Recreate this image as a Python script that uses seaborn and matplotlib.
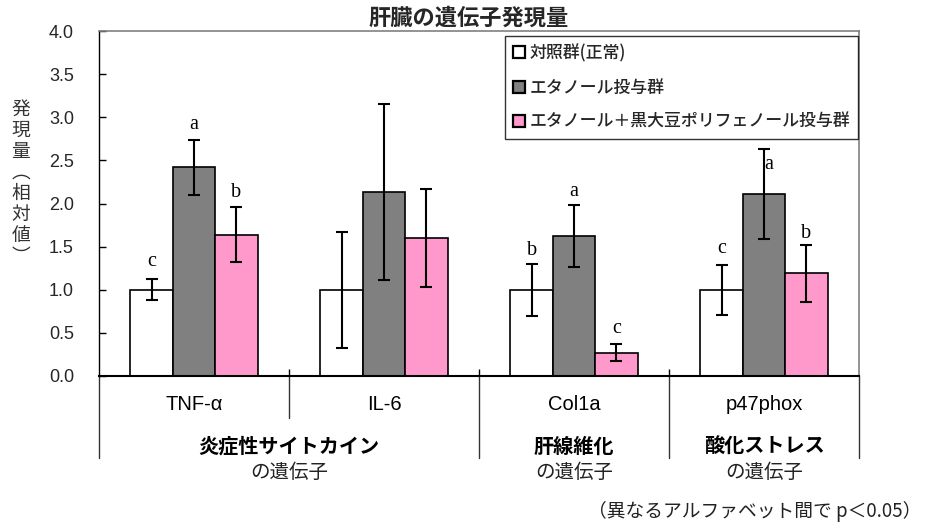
import matplotlib
matplotlib.use('Agg')
import matplotlib.pyplot as plt
import seaborn as sns
import pandas as pd
import numpy as np
from matplotlib.patches import Patch
from matplotlib.transforms import blended_transform_factory

# ---- data ----
genes = ['TNF-α', 'IL-6', 'Col1a', 'p47phox']
groups = ['対照群(正常)', 'エタノール投与群', 'エタノール＋黒大豆ポリフェノール投与群']
control = [1.00, 1.00, 1.00, 1.00]
ethanol = [2.42, 2.13, 1.62, 2.11]
polyphenol = [1.64, 1.60, 0.27, 1.19]
control_err = [0.12, 0.67, 0.30, 0.29]
ethanol_err = [0.32, 1.02, 0.36, 0.52]
polyphenol_err = [0.32, 0.57, 0.10, 0.33]
control_sig = ['c', '', 'b', 'c']
ethanol_sig = ['a', '', 'a', 'a']
polyphenol_sig = ['b', '', 'c', 'b']
categories = ['炎症性サイトカイン', '肝線維化', '酸化ストレス']
category_span = [(0, 1), (2, 2), (3, 3)]
y_ticks = [0.0, 0.5, 1.0, 1.5, 2.0, 2.5, 3.0, 3.5, 4.0]
title = '肝臓の遺伝子発現量'
ylabel = '発現量︵相対値︶'
note = '（異なるアルファベット間で p＜0.05）'

# annotation (letter) positions
control_sig_y = [1.33, None, 1.46, 1.48]
ethanol_sig_y = [2.92, None, 2.14, 2.45]
polyphenol_sig_y = [2.13, None, 0.55, 1.65]
ethanol_sig_dx = [0, 0, 0, 0.027]

colors = ['#ffffff', '#808080', '#ff99cc']

sns.set_theme(style='white')
plt.rcParams['font.family'] = ['Noto Sans CJK JP', 'DejaVu Sans']

W, H = 936, 526
fig = plt.figure(figsize=(W / 100, H / 100), dpi=100)
ax = fig.add_axes([99 / W, 1 - 376 / H, (859 - 99) / W, (376 - 31) / H])

df = pd.DataFrame({
    'gene': genes * 3,
    'group': [g for g in groups for _ in genes],
    'value': control + ethanol + polyphenol,
})

sns.barplot(data=df, x='gene', y='value', hue='group', order=genes, hue_order=groups,
            palette=colors, saturation=1, width=0.67, gap=0, edgecolor='black',
            linewidth=1.2, errorbar=None, ax=ax, legend=False, zorder=2)

errs = [control_err, ethanol_err, polyphenol_err]
vals = [control, ethanol, polyphenol]
sigs = [control_sig, ethanol_sig, polyphenol_sig]
sig_ys = [control_sig_y, ethanol_sig_y, polyphenol_sig_y]
dxs = [[0] * 4, ethanol_sig_dx, [0] * 4]
for cont, v, e, s, sy, dx in zip(ax.containers, vals, errs, sigs, sig_ys, dxs):
    xs = [b.get_x() + b.get_width() / 2 for b in cont]
    ax.errorbar(xs, v, yerr=e, fmt='none', ecolor='black', elinewidth=1.5,
                capsize=4.2, capthick=1.5, zorder=3)
    for x, lab, yy, d in zip(xs, s, sy, dx):
        if lab:
            ax.text(x + d, yy, lab, ha='center', va='center', fontsize=14.5,
                    family='Liberation Serif', color='black', zorder=4)

ax.set_xlim(-0.5, 3.5)
ax.set_ylim(0, 4.0)
ax.set_yticks(y_ticks)
ax.set_yticklabels([f'{t:.1f}' for t in y_ticks], family='Liberation Sans', fontsize=13)
ax.set_xticks([0.5, 1.5, 2.5])
ax.set_xticklabels([])
ax.set_xlabel('')
ax.set_ylabel('')
ax.tick_params(axis='y', direction='in', length=5, width=1, color='black', pad=18, left=True)
ax.tick_params(axis='x', direction='in', length=5, width=1, color='black', bottom=True)

for side in ['top', 'right']:
    ax.spines[side].set_color('#808080')
    ax.spines[side].set_linewidth(1.2)
ax.spines['left'].set_color('black')
ax.spines['left'].set_linewidth(1.0)
ax.spines['bottom'].set_color('black')
ax.spines['bottom'].set_linewidth(1.5)

def fy(px):
    return 1 - px / H

trans = blended_transform_factory(ax.transData, fig.transFigure)
for x in [-0.5, 1.5, 2.5, 3.5]:
    ax.plot([x, x], [fy(376), fy(458)], transform=trans, clip_on=False, color='#333333', lw=1.0)
ax.plot([0.5, 0.5], [fy(376), fy(418)], transform=trans, clip_on=False, color='#333333', lw=1.0)

for i, g in enumerate(genes):
    ax.text(i, fy(405), g, transform=trans, ha='center', va='center', fontsize=14.5,
            family='Liberation Sans', color='black')
for name, (a, b) in zip(categories, category_span):
    xc = (a + b) / 2
    ax.text(xc, fy(446), name, transform=trans, ha='center', va='center', fontsize=14.5,
            fontweight='bold', color='black')
    ax.text(xc, fy(472), 'の遺伝子', transform=trans, ha='center', va='center', fontsize=14,
            color='#222222')

handles = [Patch(facecolor=c, edgecolor='black', linewidth=1.6) for c in colors]
leg = ax.legend(handles, groups, loc='upper right', bbox_to_anchor=(858 / W, 1 - 36 / H),
                bbox_transform=fig.transFigure, borderaxespad=0, frameon=True, fancybox=False,
                shadow=False, fontsize=12.2, handlelength=0.7, handleheight=0.7,
                handletextpad=0.3, labelspacing=0.98, borderpad=0.45)
leg.get_frame().set_edgecolor('black')
leg.get_frame().set_linewidth(1.0)
for t in leg.get_texts():
    t.set_fontweight('medium')

fig.text(469 / W, fy(18), title, ha='center', va='center', fontsize=16, fontweight='bold')
fig.text(21 / W, fy(183), '\n'.join(ylabel), ha='center', va='center', fontsize=13.5,
         color='#333333', linespacing=1.0)
fig.text(921 / W, fy(511), note, ha='right', va='center', fontsize=13.5, color='#222222')

fig.savefig('out.png', dpi=100, facecolor='white')
